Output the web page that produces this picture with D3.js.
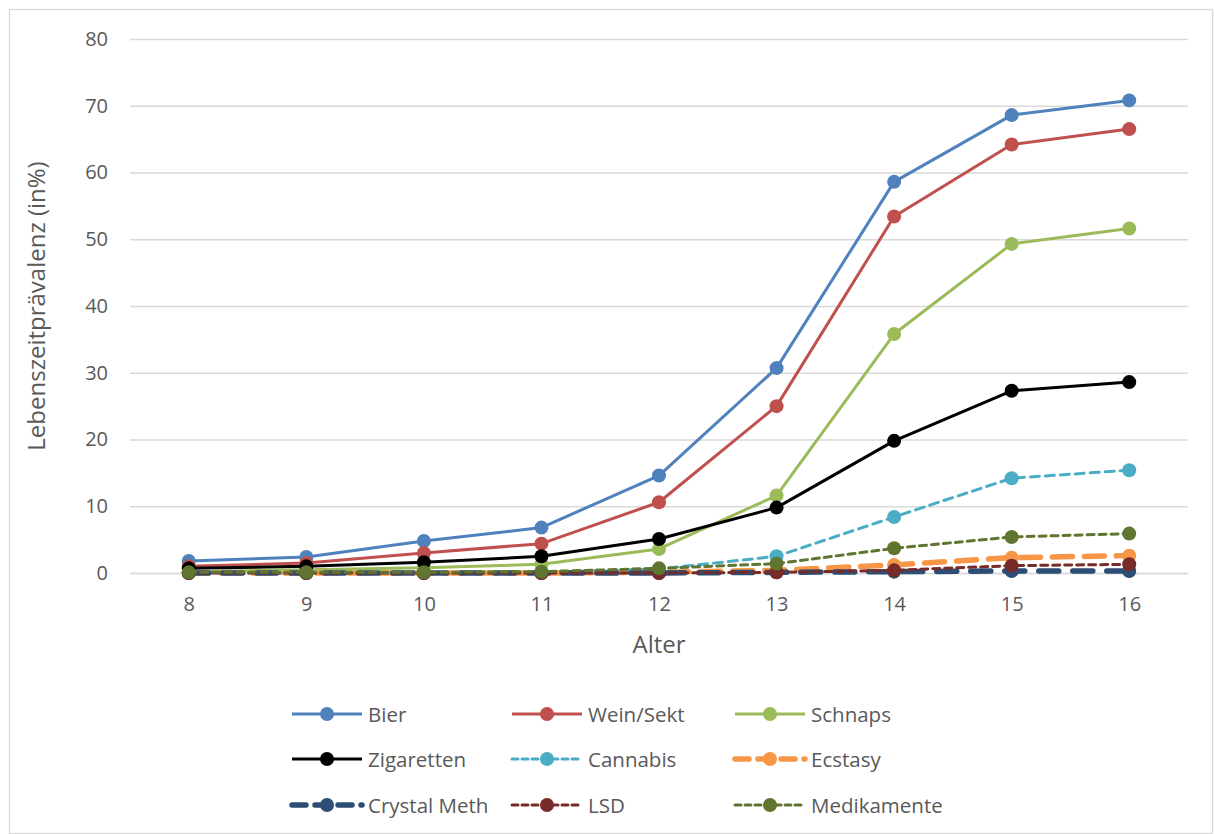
<!DOCTYPE html>
<html><head><meta charset="utf-8">
<script src="https://cdn.jsdelivr.net/npm/d3@7"></script>
<style>body{margin:0;background:#fff}svg{display:block}</style>
</head><body>
<svg id="c" width="1214" height="834"></svg>
<script>
const ages = ["8","9","10","11","12","13","14","15","16"];
const yTicks = [0,10,20,30,40,50,60,70,80];
const bier = [1.8,2.4,4.8,6.8,14.6,30.7,58.6,68.6,70.8];
const weinSekt = [1.0,1.5,3.0,4.4,10.6,25.0,53.4,64.2,66.5];
const schnaps = [0.2,0.5,0.8,1.3,3.6,11.6,35.8,49.3,51.6];
const zigaretten = [0.7,1.0,1.6,2.5,5.1,9.8,19.8,27.3,28.6];
const cannabis = [0.0,0.0,0.0,0.1,0.6,2.5,8.4,14.2,15.4];
const ecstasy = [0.0,0.0,0.0,0.0,0.1,0.4,1.2,2.3,2.6];
const crystalMeth = [0.0,0.0,0.0,0.0,0.0,0.1,0.2,0.3,0.3];
const lsd = [0.0,0.0,0.0,0.0,0.0,0.1,0.4,1.1,1.3];
const medikamente = [0.1,0.1,0.1,0.2,0.7,1.4,3.7,5.4,5.9];

const series = [
  {name:"Bier", values:bier, color:"#4F81BD", w:3, dash:null},
  {name:"Wein/Sekt", values:weinSekt, color:"#C0504D", w:3, dash:null},
  {name:"Schnaps", values:schnaps, color:"#9BBB59", w:3, dash:null},
  {name:"Zigaretten", values:zigaretten, color:"#000000", w:3, dash:null},
  {name:"Cannabis", values:cannabis, color:"#4BACC6", w:3, dash:"9,6"},
  {name:"Ecstasy", values:ecstasy, color:"#F79646", w:5.5, dash:"20,12"},
  {name:"Crystal Meth", values:crystalMeth, color:"#2C4D75", w:5.5, dash:"20,14"},
  {name:"LSD", values:lsd, color:"#772C2A", w:3, dash:"7,5"},
  {name:"Medikamente", values:medikamente, color:"#5F7530", w:3, dash:"7,5"}
];

const svg = d3.select("#c");
const font = "'Open Sans', 'Liberation Sans', sans-serif";
const txt = "#595959";

svg.append("rect").attr("x",9.5).attr("y",9.5).attr("width",1203).attr("height",824)
  .attr("fill","#fff").attr("stroke","#D9D9D9").attr("stroke-width",1.3);

const pLeft=130, pRight=1188, pTop=39, pBottom=573;
const x = d3.scalePoint().domain(ages).range([pLeft,pRight]).padding(0.5);
const y = d3.scaleLinear().domain([0,80]).range([pBottom,pTop]);

const yAxis = d3.axisLeft(y).tickValues(yTicks).tickSize(-(pRight-pLeft)).tickPadding(22);
const gy = svg.append("g").attr("transform",`translate(${pLeft},0)`).call(yAxis);
gy.select(".domain").remove();
gy.selectAll(".tick line").attr("stroke","#D9D9D9").attr("stroke-width",1.3);
gy.selectAll(".tick text").attr("fill",txt).style("font-family",font).style("font-size","20px");

const xAxis = d3.axisBottom(x).tickSize(0).tickPadding(24);
const gx = svg.append("g").attr("transform",`translate(0,${pBottom})`).call(xAxis);
gx.select(".domain").attr("stroke","#D9D9D9").attr("stroke-width",1.3);
gx.selectAll(".tick text").attr("fill",txt).style("font-family",font).style("font-size","20px");

svg.append("text").attr("x",659).attr("y",653).attr("text-anchor","middle")
  .attr("fill",txt).style("font-family",font).style("font-size","24px").text("Alter");
svg.append("text").attr("transform","translate(45,306) rotate(-90)").attr("text-anchor","middle")
  .attr("fill",txt).style("font-family",font).style("font-size","24px").text("Lebenszeitprävalenz (in%)");

const line = d3.line().x((d,i)=>x(ages[i])).y(d=>y(d));
series.forEach(s=>{
  const g = svg.append("g");
  g.append("path").datum(s.values).attr("d",line).attr("fill","none")
    .attr("stroke",s.color).attr("stroke-width",s.w).attr("stroke-dasharray",s.dash)
    .attr("stroke-linecap",s.dash?"round":"butt").attr("stroke-linejoin","round");
  g.selectAll("circle").data(s.values).enter().append("circle")
    .attr("cx",(d,i)=>x(ages[i])).attr("cy",d=>y(d)).attr("r",7).attr("fill",s.color);
});

const colX=[292,512,735], rowY=[714,759,805];
series.forEach((s,i)=>{
  const cx=colX[i%3], cy=rowY[Math.floor(i/3)];
  const g=svg.append("g").attr("transform",`translate(${cx},${cy})`);
  g.append("line").attr("x1",0).attr("x2",70).attr("y1",0).attr("y2",0)
    .attr("stroke",s.color).attr("stroke-width",s.w)
    .attr("stroke-dasharray",s.dash?(s.w>4?"14,9":"6,4"):null)
    .attr("stroke-linecap",s.dash?"round":"butt");
  g.append("circle").attr("cx",35).attr("cy",0).attr("r",7).attr("fill",s.color);
  g.append("text").attr("x",76).attr("y",7.5).attr("fill",txt)
    .style("font-family",font).style("font-size","20.5px").text(s.name);
});
</script>
</body></html>
